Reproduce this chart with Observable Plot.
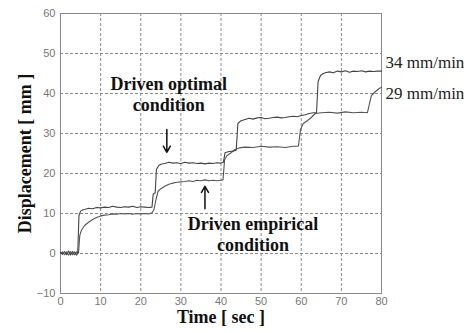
<!DOCTYPE html>
<html>
<head>
<meta charset="utf-8">
<script src="https://cdn.jsdelivr.net/npm/d3@7"></script>
<script src="https://cdn.jsdelivr.net/npm/@observablehq/plot@0.6"></script>
<style>
  html, body { margin: 0; padding: 0; background: #fff; }
</style>
</head>
<body>
<div id="chart"></div>
<script>
// Tick values
const xTicks = [0, 10, 20, 30, 40, 50, 60, 70, 80];
const yTicks = [-10, 0, 10, 20, 30, 40, 50, 60];

// Series: Driven optimal condition (34 mm/min)
const timeA = [0, 0.5, 1, 1.5, 2, 2.5, 3, 3.5, 4, 4.3, 4.6, 5, 5.5, 6, 7, 8, 9, 10, 11, 12, 13, 14, 15, 16, 17, 18, 19, 20, 21, 22, 22.8, 23.1, 23.6, 23.9, 24.5, 25, 26, 27, 28, 29, 30, 31, 32, 33, 34, 35, 36, 37, 38, 39, 40, 40.6, 41, 42, 43, 43.8, 44.2, 45, 46, 47, 48, 49, 50, 51, 52, 53, 54, 55, 56, 57, 58, 59, 60, 61, 62, 63, 63.8, 64.2, 64.8, 65.5, 66, 67, 68, 69, 70, 71, 72, 73, 74, 75, 76, 77, 78, 79, 80];
const dispA = [0.3, -0.2, 0.5, -0.3, 0.6, -0.4, 0.5, -0.3, 0.4, 0.2, 9.5, 10.6, 10.9, 11.0, 11.3, 11.2, 11.5, 11.4, 11.6, 11.5, 11.8, 11.6, 11.5, 11.7, 11.6, 11.8, 11.5, 11.7, 11.6, 11.5, 11.6, 14.8, 15.2, 21.0, 22.0, 22.3, 22.5, 22.8, 22.6, 22.7, 22.5, 22.8, 22.6, 22.7, 22.5, 22.6, 22.4, 22.6, 22.5, 22.7, 22.6, 22.8, 25.2, 25.5, 25.6, 25.8, 32.5, 33.2, 33.5, 33.8, 33.6, 33.9, 34.0, 33.7, 33.8, 34.0, 34.1, 33.9, 34.0, 34.2, 34.3, 34.2, 34.5, 34.7, 35.0, 35.2, 35.2, 43.0, 44.5, 45.0, 45.2, 45.4, 45.2, 45.6, 45.4, 45.7, 45.3, 45.6, 45.5, 45.7, 45.4, 45.6, 45.5, 45.6, 45.6];

// Series: Driven empirical condition (29 mm/min)
const timeB = [0, 0.5, 1, 1.5, 2, 2.5, 3, 3.5, 4, 4.5, 4.8, 5.2, 6, 7, 8, 9, 10, 11, 12, 13, 14, 15, 16, 17, 18, 19, 20, 21, 22, 22.8, 23.3, 23.8, 24.3, 25, 26, 27, 28, 29, 30, 31, 32, 33, 34, 35, 36, 37, 38, 39, 40, 40.5, 40.9, 41.5, 42.5, 43.5, 44.5, 46, 48, 50, 52, 54, 56, 58, 59.3, 59.8, 60.5, 61.5, 62.5, 63.5, 65, 67, 69, 71, 73, 75, 76.5, 77, 77.5, 78.5, 79.5, 80];
const dispB = [0.0, 0.4, -0.3, 0.4, -0.4, 0.5, -0.3, 0.4, -0.4, 0.2, 4.5, 5.8, 7.0, 7.8, 8.5, 9.0, 9.4, 9.6, 9.7, 9.9, 9.8, 10.0, 9.9, 10.0, 9.8, 10.0, 9.9, 10.0, 9.9, 10.2, 11.0, 13.5, 15.5, 16.2, 16.8, 17.3, 17.6, 17.8, 17.9, 18.0, 18.2, 18.0, 18.3, 18.2, 18.4, 18.2, 18.3, 18.2, 18.3, 18.4, 23.5, 24.5, 25.2, 26.0, 26.4, 26.6, 26.5, 26.8, 26.6, 26.7, 26.5, 26.8, 26.8, 31.0, 32.5, 33.2, 34.0, 35.0, 35.2, 35.3, 35.1, 35.4, 35.2, 35.3, 35.2, 37.5, 39.5, 40.5, 41.3, 41.5];

// Annotations
const rateLabels = ["34 mm/min", "29 mm/min"];
const rateLabelY = [47.7, 40];
const noteTexts = ["Driven optimal\ncondition", "Driven empirical\ncondition"];
const noteX = [27, 48];
const noteY = [40, 5];
const arrowX = [26.5, 36];
const arrowFrom = [31, 11.2];
const arrowTo = [25.3, 16.8];

const seriesA = timeA.map((t, i) => ({t, v: dispA[i]}));
const seriesB = timeB.map((t, i) => ({t, v: dispB[i]}));
const rates = rateLabels.map((label, i) => ({label, y: rateLabelY[i]}));
const notes = noteTexts.map((text, i) => ({text, x: noteX[i], y: noteY[i]}));
const arrows = arrowX.map((x, i) => ({x, y1: arrowFrom[i], y2: arrowTo[i]}));

const serif = "'Liberation Serif', 'Times New Roman', serif";
const sans = "'Liberation Sans', Arial, sans-serif";

const chart = Plot.plot({
  width: 469,
  height: 333,
  marginLeft: 60,
  marginRight: 88,
  marginTop: 13,
  marginBottom: 40,
  style: {background: "#fff", overflow: "visible"},
  x: {domain: [0, 80]},
  y: {domain: [-10, 60]},
  marks: [
    Plot.gridX(xTicks, {stroke: "#8a8a8a", strokeOpacity: 1, strokeDasharray: "3,2"}),
    Plot.gridY(yTicks, {stroke: "#8a8a8a", strokeOpacity: 1, strokeDasharray: "3,2"}),
    Plot.frame({stroke: "#8a8a8a"}),
    Plot.axisX(xTicks, {tickSize: 0, tickPadding: 4, label: null, fontSize: 11, fontFamily: sans, color: "#777"}),
    Plot.axisY(yTicks, {tickSize: 0, tickPadding: 5, label: null, fontSize: 11, fontFamily: sans, color: "#777"}),
    Plot.line(seriesB, {x: "t", y: "v", stroke: "#555", strokeWidth: 1.1}),
    Plot.line(seriesA, {x: "t", y: "v", stroke: "#444", strokeWidth: 1.1}),
    Plot.arrow(arrows, {x1: "x", x2: "x", y1: "y1", y2: "y2", stroke: "#111", strokeWidth: 1.5, headLength: 7}),
    Plot.text(notes, {x: "x", y: "y", text: "text", fontFamily: serif, fontWeight: "bold", fontSize: 18, lineHeight: 1.2, fill: "#111", lineAnchor: "middle"}),
    Plot.text(rates, {x: () => 80, y: "y", text: "label", dx: 4, textAnchor: "start", fontFamily: serif, fontSize: 17, fill: "#222"}),
    Plot.text(["Time [ sec ]"], {frameAnchor: "bottom", dy: 29, textAnchor: "middle", fontFamily: serif, fontWeight: "bold", fontSize: 18, fill: "#111"}),
    Plot.text(["Displacement [ mm ]"], {frameAnchor: "left", dx: -35, rotate: -90, textAnchor: "middle", lineAnchor: "middle", fontFamily: serif, fontWeight: "bold", fontSize: 18, fill: "#111"})
  ]
});
document.getElementById("chart").appendChild(chart);
</script>
</body>
</html>
